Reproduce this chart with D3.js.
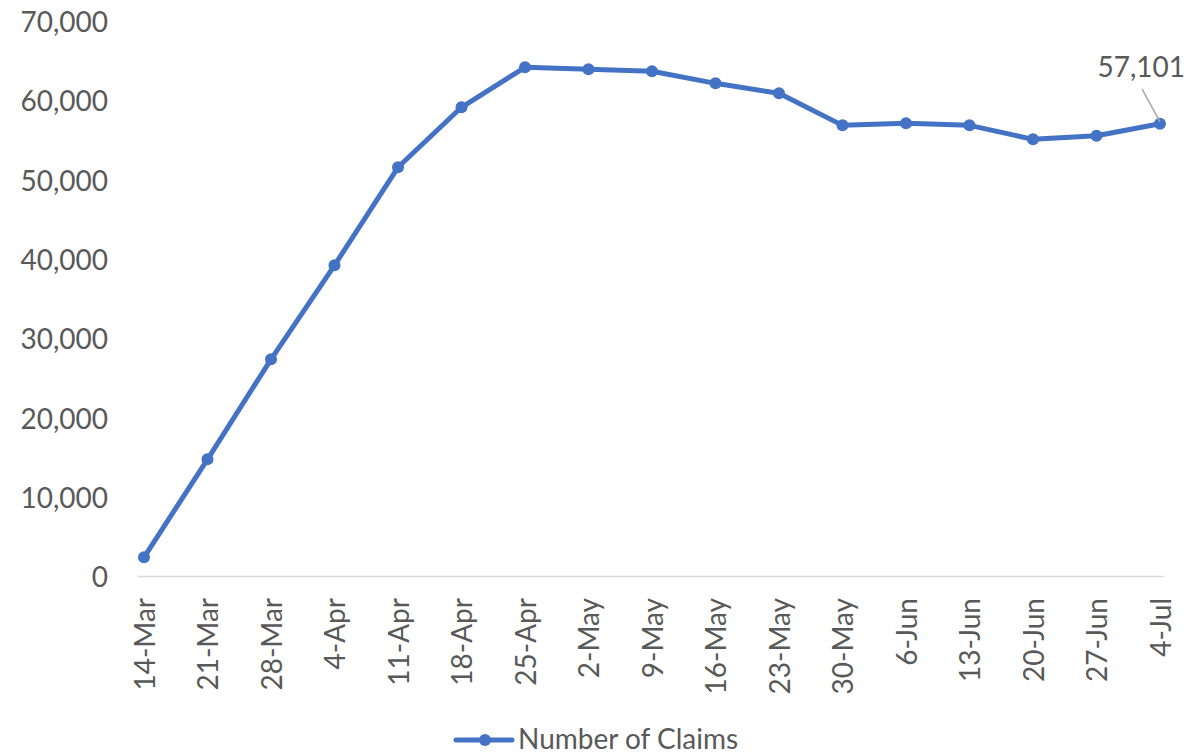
<!DOCTYPE html>
<html>
<head>
<meta charset="utf-8">
<script src="https://cdn.jsdelivr.net/npm/d3@7"></script>
<style>
  html, body { margin: 0; padding: 0; background: #fff; }
  svg { display: block; }
  text { font-family: Lato, "Open Sans", sans-serif; fill: #595959; }
</style>
</head>
<body>
<svg id="chart" width="1203" height="755"></svg>
<script>
const categories = ["14-Mar","21-Mar","28-Mar","4-Apr","11-Apr","18-Apr","25-Apr","2-May","9-May","16-May","23-May","30-May","6-Jun","13-Jun","20-Jun","27-Jun","4-Jul"];
const claims = [2420, 14780, 27390, 39250, 51610, 59180, 64220, 63970, 63720, 62200, 60940, 56900, 57160, 56900, 55140, 55600, 57101];
const yTicks = [0, 10000, 20000, 30000, 40000, 50000, 60000, 70000];
const seriesName = "Number of Claims";
const annotationIndex = 16;

const svg = d3.select("#chart");
const x = d3.scalePoint().domain(categories).range([144, 1160]);
const y = d3.scaleLinear().domain([0, 70000]).range([576.5, 21.5]);
const fmt = d3.format(",");
const blue = "#4472C4";

// y-axis labels (no axis line, no gridlines)
const yAxis = d3.axisLeft(y).tickValues(yTicks).tickFormat(fmt).tickSize(0).tickPadding(0);
const yg = svg.append("g").attr("transform", "translate(108,0)").call(yAxis);
yg.select(".domain").remove();
yg.selectAll("text").attr("font-size", 28).attr("font-family", "Lato, sans-serif").attr("fill", "#595959").attr("dy", "0.36em");

// x-axis
const xAxis = d3.axisBottom(x).tickSize(0).tickPadding(0);
const xg = svg.append("g").attr("transform", "translate(0,576.5)").call(xAxis);
xg.select(".domain").remove();
xg.append("line").attr("x1", 138).attr("x2", 1164).attr("y1", 0).attr("y2", 0)
  .attr("stroke", "#d9d9d9").attr("stroke-width", 1.5);
xg.selectAll(".tick text")
  .attr("font-size", 28).attr("font-family", "Lato, sans-serif").attr("fill", "#595959")
  .attr("text-anchor", "end")
  .attr("transform", "translate(0,21.5) rotate(-90)")
  .attr("x", 0).attr("y", 0).attr("dy", "0.36em");

// line
const line = d3.line().x((d, i) => x(categories[i])).y(d => y(d));
svg.append("path").datum(claims).attr("d", line)
  .attr("fill", "none").attr("stroke", blue).attr("stroke-width", 5)
  .attr("stroke-linejoin", "round").attr("stroke-linecap", "round");
svg.append("g").selectAll("circle").data(claims).join("circle")
  .attr("cx", (d, i) => x(categories[i])).attr("cy", d => y(d)).attr("r", 6).attr("fill", blue);

// annotation
const ax = x(categories[annotationIndex]), ay = y(claims[annotationIndex]);
svg.append("line").attr("x1", ax - 18).attr("y1", ay - 35).attr("x2", ax).attr("y2", ay - 2)
  .attr("stroke", "#a6a6a6").attr("stroke-width", 1.5);
svg.append("text").attr("x", ax + 25).attr("y", 77).attr("text-anchor", "end")
  .attr("font-size", 28).attr("fill", "#404040").text(fmt(claims[annotationIndex]));

// legend
const lg = svg.append("g");
lg.append("line").attr("x1", 456).attr("x2", 512).attr("y1", 740).attr("y2", 740)
  .attr("stroke", blue).attr("stroke-width", 5).attr("stroke-linecap", "round");
lg.append("circle").attr("cx", 485).attr("cy", 740).attr("r", 6).attr("fill", blue);
lg.append("text").attr("x", 518).attr("y", 749).attr("font-size", 28).text(seriesName);
</script>
</body>
</html>
